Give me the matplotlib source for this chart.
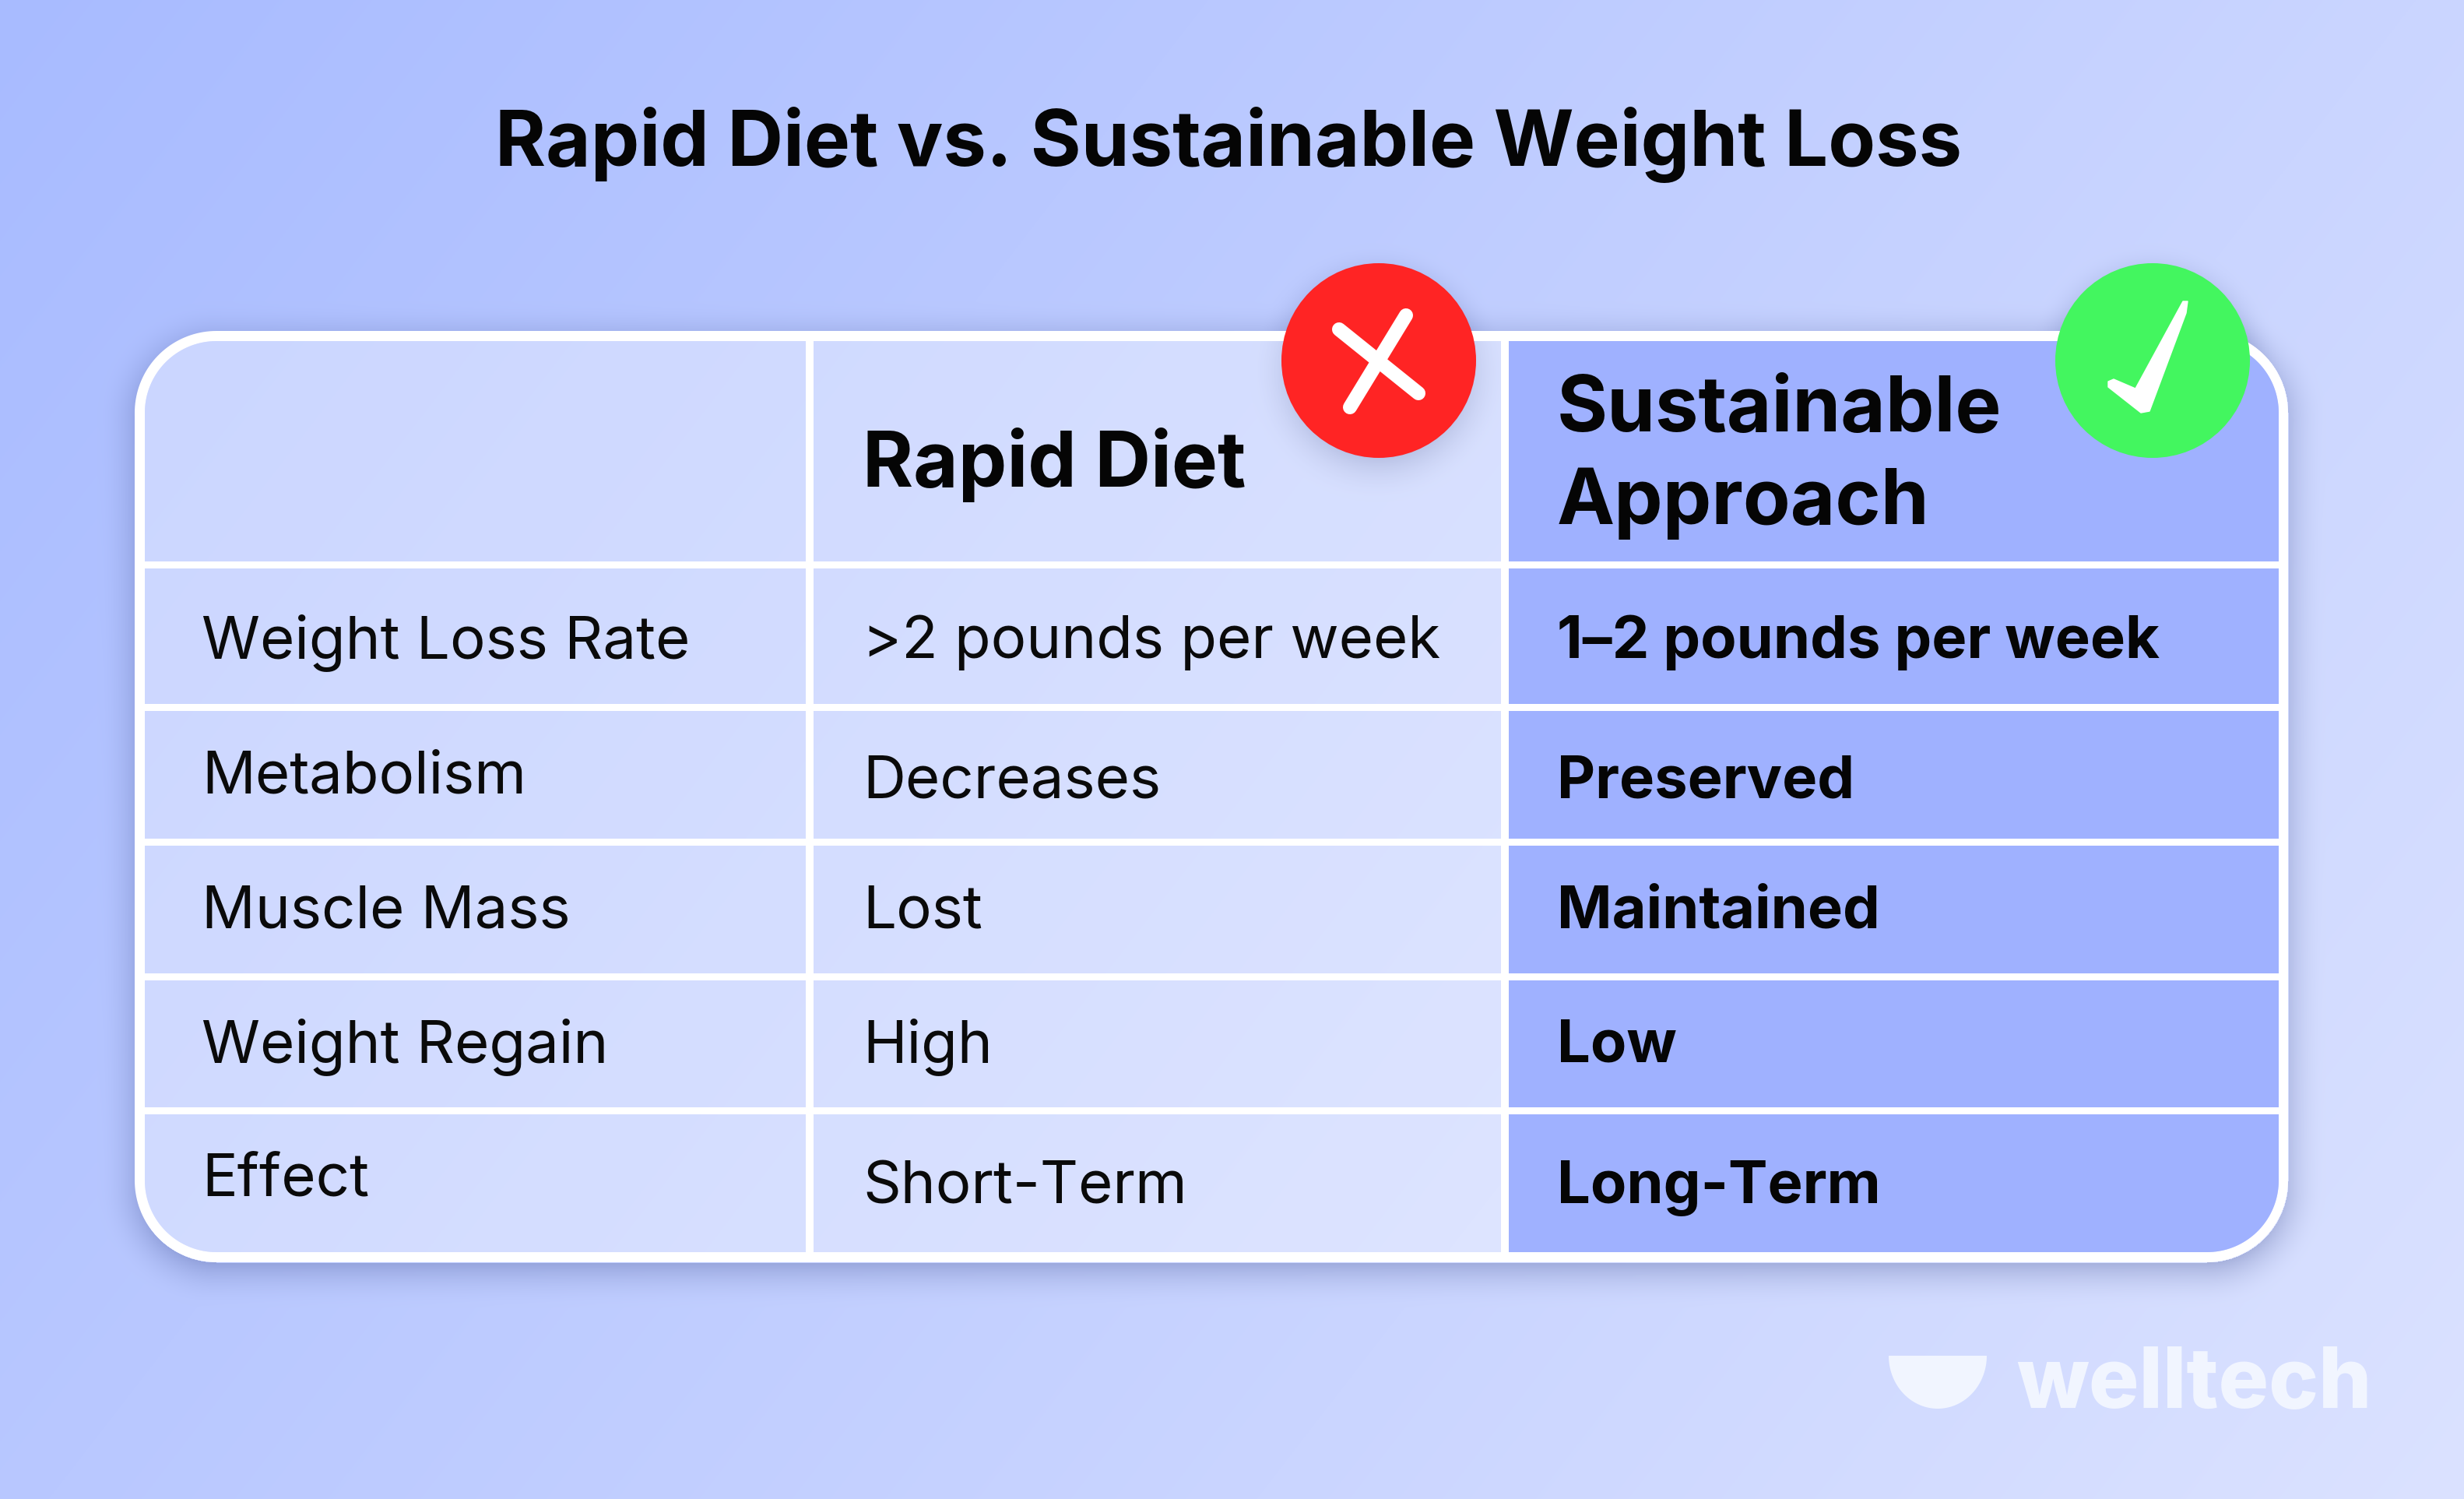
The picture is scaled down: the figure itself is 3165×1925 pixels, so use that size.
import numpy as np
import matplotlib
matplotlib.use('Agg')
import matplotlib.pyplot as plt
from matplotlib.patches import Rectangle, Circle, Polygon, PathPatch
from matplotlib.path import Path

plt.rcParams['font.family'] = ['Inter', 'DejaVu Sans']

W, H = 3165, 1925

#textos de la tabla
title = 'Rapid Diet vs. Sustainable Weight Loss'
row_labels = ['Weight Loss Rate', 'Metabolism', 'Muscle Mass', 'Weight Regain', 'Effect']
rapid_values = ['>2 pounds per week', 'Decreases', 'Lost', 'High', 'Short-Term']
sustainable_values = ['1–2 pounds per week', 'Preserved', 'Maintained', 'Low', 'Long-Term']
header_rapid = 'Rapid Diet'
header_sustainable = ['Sustainable', 'Approach']

#posiciones en pixeles
row_edges = [438, 725, 908, 1081, 1254, 1426, 1608]
col_edges = [186, 1040, 1933, 2927]
label_y = [817, 991, 1164, 1336, 1509]
value_y = [817, 997, 1164, 1336, 1518]

fig = plt.figure(figsize=(W / 100, H / 100), dpi=100)
ax = fig.add_axes([0, 0, 1, 1])


def rect_dist(xx, yy, x0, y0, x1, y1, r):
    cx, cy = (x0 + x1) / 2, (y0 + y1) / 2
    qx = np.abs(xx - cx) - (x1 - x0) / 2 + r
    qy = np.abs(yy - cy) - (y1 - y0) / 2 + r
    return np.hypot(np.maximum(qx, 0), np.maximum(qy, 0)) + np.minimum(np.maximum(qx, qy), 0) - r


def round_pts(x0, y0, x1, y1, r):
    #contorno de un rectangulo redondeado
    a = np.linspace(0, np.pi / 2, 40)
    pts = []
    for cx, cy, start in [(x1 - r, y1 - r, 0), (x0 + r, y1 - r, np.pi / 2),
                          (x0 + r, y0 + r, np.pi), (x1 - r, y0 + r, 1.5 * np.pi)]:
        pts.append(np.column_stack([cx + r * np.cos(a + start), cy + r * np.sin(a + start)]))
    return np.vstack(pts)


def closed_path(pts):
    codes = [Path.MOVETO] + [Path.LINETO] * (len(pts) - 1) + [Path.CLOSEPOLY]
    return Path(np.vstack([pts, pts[0]]), codes)


#fondo con degradado y sombras
yy, xx = np.mgrid[0:H, 0:W]
t = (xx / W * 0.68 + yy / H * 0.32)
c0 = np.array([168, 187, 255]) / 255
c1 = np.array([219, 226, 255]) / 255
bg = c0 + (c1 - c0) * t[..., None]


def add_shadow(img, dist, blur, strength, mask=None):
    a = strength * np.clip(1 - (dist + blur * 0.3) / blur, 0, 1) ** 2
    if mask is not None:
        a = a * mask
    col = np.array([60, 75, 140]) / 255
    return img * (1 - a[..., None]) + col * a[..., None]


#la sombra de la tabla solo por fuera
outside = rect_dist(xx, yy, 173, 425, 2939, 1621, 105) > 0
bg = add_shadow(bg, rect_dist(xx, yy - 10, 173, 425, 2939, 1621, 105), 70, 0.42, outside)
bg = add_shadow(bg, np.hypot(xx - 1771, yy - 478) - 125, 60, 0.36)
bg = add_shadow(bg, np.hypot(xx - 2765, yy - 478) - 125, 60, 0.36)
ax.imshow(bg, extent=(0, W, H, 0), aspect='auto', zorder=0, interpolation='bilinear')
ax.set_xlim(0, W)
ax.set_ylim(H, 0)
ax.axis('off')

#marco blanco de la tabla
outer_pts = round_pts(173, 425, 2939, 1621, 105)
inner_pts = round_pts(186, 438, 2927, 1608, 92)
ring = Path.make_compound_path(closed_path(outer_pts), closed_path(inner_pts[::-1]))
ax.add_patch(PathPatch(ring, fc='white', ec='none', lw=0, zorder=2))
inner = PathPatch(closed_path(inner_pts), fc='none', ec='none', lw=0, zorder=1)
ax.add_patch(inner)

#celdas
for i in range(len(row_edges) - 1):
    y0, y1 = row_edges[i], row_edges[i + 1]
    gap_top = 0 if i == 0 else 4.5
    gap_bot = 0 if i == len(row_edges) - 2 else 4.5
    for j in range(3):
        x0, x1 = col_edges[j], col_edges[j + 1]
        gap_l = 0 if j == 0 else 5
        gap_r = 0 if j == 2 else 5
        if j == 2:
            cell = Rectangle((x0 + gap_l, y0 + gap_top), x1 - x0 - gap_l - gap_r, y1 - y0 - gap_top - gap_bot,
                             fc='#9fb1ff', ec='none', lw=0, zorder=3)
        else:
            cell = Rectangle((x0 + gap_l, y0 + gap_top), x1 - x0 - gap_l - gap_r, y1 - y0 - gap_top - gap_bot,
                             fc='white', alpha=0.36, ec='none', lw=0, zorder=3)
        ax.add_patch(cell)
        cell.set_clip_path(inner)

#lineas blancas
for y in row_edges[1:-1]:
    ax.add_patch(Rectangle((186, y - 4.5), 2927 - 186, 9, fc='white', ec='none', lw=0, zorder=4))
for x in col_edges[1:-1]:
    ax.add_patch(Rectangle((x - 5, 438), 10, 1608 - 438, fc='white', ec='none', lw=0, zorder=4))

#texto
ax.text(1578, 175, title, ha='center', va='center_baseline', fontsize=71.5, fontweight='bold', color='#050505', zorder=6)
ax.text(1108, 587, header_rapid, ha='left', va='center_baseline', fontsize=71.5, fontweight='bold', color='#050505', zorder=6)
ax.text(2000, 518, header_sustainable[0], ha='left', va='center_baseline', fontsize=71.5, fontweight='bold', color='#050505', zorder=6)
ax.text(2000, 637, header_sustainable[1], ha='left', va='center_baseline', fontsize=71.5, fontweight='bold', color='#050505', zorder=6)
for i in range(len(row_labels)):
    ax.text(259, label_y[i], row_labels[i], ha='left', va='center_baseline', fontsize=54.8, color='#0a0a0a', zorder=6)
    ax.text(1108, value_y[i], rapid_values[i], ha='left', va='center_baseline', fontsize=54.8, color='#0a0a0a', zorder=6)
    ax.text(2000, value_y[i], sustainable_values[i], ha='left', va='center_baseline', fontsize=54.6, fontweight='bold', color='#050505', zorder=6)

#icono rojo
ax.add_patch(Circle((1771, 463), 125, fc='#ff2424', ec='none', lw=0, zorder=7))
ax.plot([1720, 1822], [423, 505], color='white', lw=13, solid_capstyle='round', zorder=8)
ax.plot([1806, 1734], [405, 523], color='white', lw=13, solid_capstyle='round', zorder=8)

#icono verde
ax.add_patch(Circle((2765, 463), 125, fc='#43f65f', ec='none', lw=0, zorder=7))
check_x = [2708, 2715, 2743, 2804, 2810, 2808, 2761, 2750, 2708]
check_y = [490, 487, 499, 387, 387, 402, 528, 530, 497]
ax.add_patch(Polygon(list(zip(check_x, check_y)), closed=True, fc='white', ec='white', lw=1, joinstyle='round', zorder=8))

#logo welltech
theta = np.linspace(0, np.pi, 60)
bowl_x = 2489 + 63 * np.cos(theta)
bowl_y = 1741 + 68 * np.sin(theta)
ax.add_patch(Polygon(list(zip(bowl_x, bowl_y)), closed=True, fc='#f1f5ff', ec='none', lw=0, zorder=5))
ax.text(2590, 1808, 'welltech', ha='left', va='baseline', fontsize=77.5, fontweight=800, color='#f1f5ff', zorder=5)

fig.savefig('out.png', dpi=100)
